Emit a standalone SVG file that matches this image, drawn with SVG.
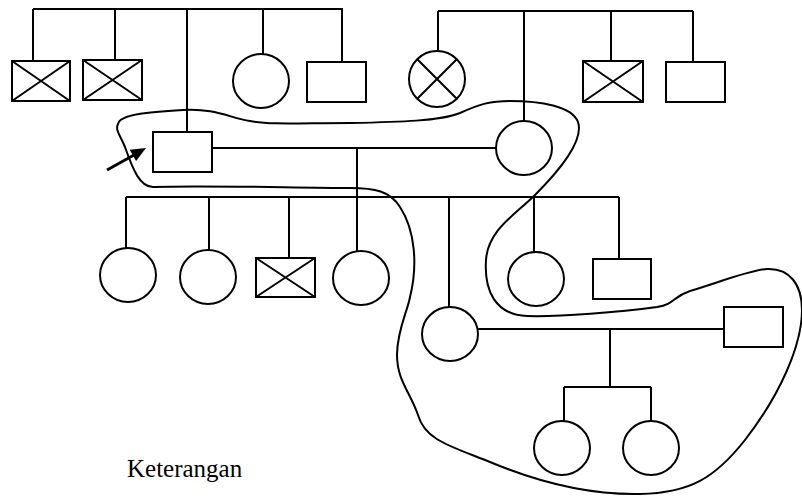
<svg xmlns="http://www.w3.org/2000/svg" width="802" height="496" viewBox="0 0 802 496">
<style>
.s{fill:#fff;stroke:#000;stroke-width:2}
.l{fill:none;stroke:#000;stroke-width:2}
.t{font-family:"Liberation Serif","Times New Roman",serif;font-size:25px;fill:#000}
</style>
<rect width="802" height="496" fill="#fff"/>
<g id="connectors" class="l">
<path d="M33,9 H343 M33,9 V61 M115,9 V60 M187,9 V132 M263,9 V54 M342,9 V62"/>
<path d="M438,11 H693 M438,11 V51 M524,11 V121 M611,11 V61 M693,11 V62"/>
<path d="M212,148 H496 M357,148 V251"/>
<path d="M126,197 H619 M126,197 V248 M209,197 V250 M289,197 V258 M449,197 V307 M534,197 V252 M619,197 V259"/>
<path d="M478,329 H724 M610,329 V387 M564,387 H651 M564,387 V421 M651,387 V421"/>
<line x1="107" y1="170" x2="134" y2="155" stroke-width="3"/>
<polygon points="146,148 129.7,149.7 136.1,161.1" fill="#000" stroke="none"/>
</g>
<g id="lasso">
<path class="l" d="M118,124 C120,114 150,112 183,110 C215,108 230,118 250,121 C270,125 300,123 350,123 C400,122 440,121 460,113 C480,104 490,101 510,101 C540,101 572,106 578,122 C584,140 560,170 535,195 C515,215 488,230 486,260 C484,290 495,315 527,316 C560,317 620,312 657,307 C675,304 672,297 690,291 C720,282 750,270 767,269 C790,268 802,285 802,310 C802,345 780,395 745,440 C715,478 690,493 640,494 C590,495 540,483 490,462 C450,446 425,440 418,415 C410,392 397,380 397,355 C397,330 408,310 410,297 C418,265 415,230 400,207 C390,191 375,188 350,188 C300,188 200,185 153,187 C140,187 133,170 125,147 C120,135 115,130 118,124 Z"/>
</g>
<g id="n1"><rect class="s" x="12" y="61" width="58" height="40"/><path class="l" d="M12,61 L70,101 M70,61 L12,101"/></g>
<g id="n2"><rect class="s" x="83" y="60" width="59" height="40"/><path class="l" d="M83,60 L142,100 M142,60 L83,100"/></g>
<g id="n3"><ellipse class="s" cx="261" cy="81" rx="28" ry="27"/></g>
<g id="n4"><rect class="s" x="307" y="62" width="59" height="40"/></g>
<g id="n5"><ellipse class="s" cx="437" cy="79" rx="28" ry="28"/><path class="l" d="M417,59 L457,99 M457,59 L417,99"/></g>
<g id="n6"><rect class="s" x="583" y="61" width="60" height="41"/><path class="l" d="M583,61 L643,102 M643,61 L583,102"/></g>
<g id="n7"><rect class="s" x="666" y="62" width="59" height="40"/></g>
<g id="proband"><rect class="s" x="153" y="132" width="59" height="40"/></g>
<g id="spouse1"><ellipse class="s" cx="524" cy="148" rx="28" ry="27"/></g>
<g id="c1"><ellipse class="s" cx="128" cy="275" rx="28" ry="27"/></g>
<g id="c2"><ellipse class="s" cx="208" cy="277" rx="28" ry="27"/></g>
<g id="c3"><rect class="s" x="256" y="258" width="59" height="39"/><path class="l" d="M256,258 L315,297 M315,258 L256,297"/></g>
<g id="c4"><ellipse class="s" cx="361" cy="278" rx="28" ry="27"/></g>
<g id="c5"><ellipse class="s" cx="450" cy="334" rx="28" ry="27"/></g>
<g id="c6"><ellipse class="s" cx="536" cy="279" rx="28" ry="27"/></g>
<g id="c7"><rect class="s" x="593" y="259" width="58" height="40"/></g>
<g id="spouse2"><rect class="s" x="724" y="307" width="59" height="40"/></g>
<g id="g1"><ellipse class="s" cx="562" cy="448" rx="28" ry="27"/></g>
<g id="g2"><ellipse class="s" cx="651" cy="448" rx="28" ry="27"/></g>
<text class="t" x="127" y="477">Keterangan</text>
</svg>
